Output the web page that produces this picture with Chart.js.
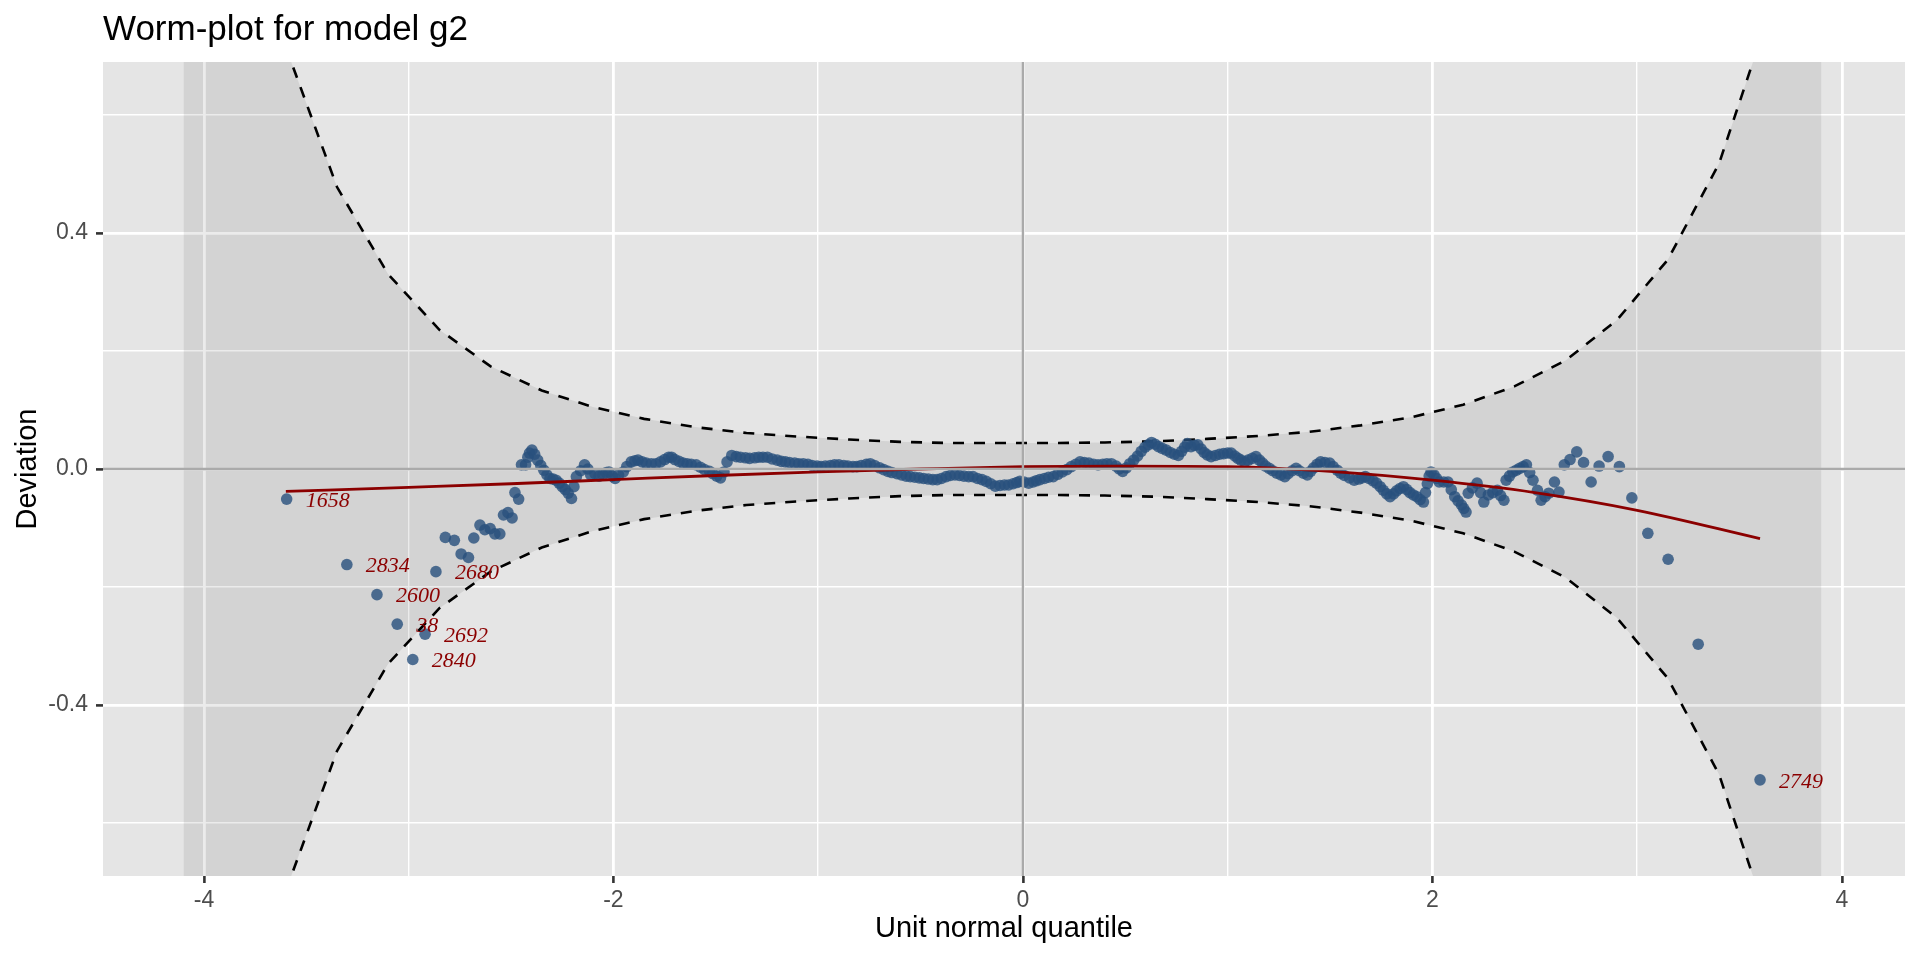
<!DOCTYPE html>
<html>
<head>
<meta charset="utf-8">
<script src="https://cdn.jsdelivr.net/npm/chart.js@4.4.1/dist/chart.umd.min.js"></script>
<style>
html,body{margin:0;padding:0;background:#ffffff;}
#wrap{width:1920px;height:960px;position:relative;}
</style>
</head>
<body>
<div id="wrap"><canvas id="c"></canvas></div>
<script>
// ---------- texts ----------
const chartTitle = 'Worm-plot for model g2';
const xAxisTitle = 'Unit normal quantile';
const yAxisTitle = 'Deviation';
const xMajorTicks = [-4, -2, 0, 2, 4];
const xTickLabels = ['-4', '-2', '0', '2', '4'];
const yMajorTicks = [-0.4, 0, 0.4];
const yTickLabels = ['-0.4', '0.0', '0.4'];

// ---------- worm points (unit normal quantile, deviation) ----------
const wormX = [
 -3.596,-3.302,-3.155,-3.056,-2.980,-2.920,-2.867,-2.821,-2.777,-2.744,
 -2.708,-2.682,-2.652,-2.628,-2.602,-2.579,-2.555,-2.537,-2.515,-2.495,
 -2.481,-2.463,-2.449,-2.429,-2.418,-2.410,-2.398,-2.385,-2.370,-2.355,
 -2.340,-2.325,-2.310,-2.295,-2.280,-2.265,-2.250,-2.235,-2.221,-2.205,
 -2.193,-2.181,-2.160,-2.141,-2.125,-2.111,-2.090,-2.070,-2.052,-2.035,
 -2.022,-2.005,-1.992,-1.975,-1.952,-1.935,-1.913,-1.895,-1.880,-1.860,
 -1.840,-1.815,-1.793,-1.770,-1.750,-1.730,-1.716,-1.700,-1.680,-1.660,
 -1.640,-1.620,-1.596,-1.575,-1.555,-1.531,-1.515,-1.495,-1.477,-1.460,
 -1.445,-1.422,-1.400,-1.380,-1.355,-1.335,-1.310,-1.290,-1.270,-1.248,
 -1.225,-1.200,-1.180,-1.160,-1.140,-1.115,-1.095,-1.073,-1.050,-1.030,
 -1.005,-0.986,-0.965,-0.940,-0.920,-0.899,-0.875,-0.855,-0.830,-0.811,
 -0.790,-0.765,-0.746,-0.725,-0.700,-0.680,-0.659,-0.640,-0.615,-0.593,
 -0.570,-0.550,-0.528,-0.506,-0.485,-0.462,-0.440,-0.419,-0.398,-0.375,
 -0.355,-0.332,-0.310,-0.288,-0.265,-0.244,-0.222,-0.200,-0.179,-0.157,
 -0.135,-0.112,-0.090,-0.070,-0.048,-0.030,-0.015,0.005,0.028,0.050,
 0.065,0.083,0.105,0.125,0.148,0.170,0.192,0.214,0.236,0.258,
 0.279,0.300,0.322,0.345,0.367,0.390,0.410,0.432,0.455,0.470,
 0.487,0.505,0.522,0.541,0.560,0.578,0.596,0.612,0.628,0.645,
 0.662,0.680,0.700,0.720,0.740,0.759,0.775,0.790,0.803,0.821,
 0.838,0.854,0.870,0.885,0.900,0.919,0.940,0.960,0.980,1.000,
 1.017,1.035,1.050,1.065,1.083,1.100,1.120,1.138,1.155,1.170,
 1.185,1.203,1.220,1.240,1.260,1.279,1.295,1.315,1.334,1.350,
 1.370,1.389,1.405,1.420,1.437,1.454,1.475,1.498,1.515,1.535,
 1.552,1.570,1.595,1.618,1.640,1.655,1.672,1.690,1.710,1.727,
 1.745,1.760,1.777,1.793,1.810,1.825,1.842,1.858,1.875,1.890,
 1.907,1.924,1.940,1.956,1.966,1.975,1.984,1.993,2.008,2.020,
 2.033,2.055,2.076,2.092,2.109,2.125,2.142,2.153,2.164,2.175,
 2.195,2.218,2.235,2.251,2.273,2.295,2.317,2.333,2.349,2.360,
 2.376,2.393,2.410,2.426,2.443,2.459,2.475,2.491,2.513,2.531,
 2.550,2.568,2.596,2.618,2.644,2.672,2.705,2.738,2.775,2.814,
 2.858,2.913,2.974,3.052,3.151,3.298,3.600
];
const wormY = [
 -0.051,-0.162,-0.213,-0.263,-0.323,-0.280,-0.174,-0.116,-0.121,-0.144,
 -0.150,-0.117,-0.095,-0.103,-0.101,-0.110,-0.110,-0.078,-0.074,-0.083,
 -0.040,-0.051,0.007,0.007,0.020,0.027,0.032,0.025,0.015,0.006,
 -0.002,-0.010,-0.016,-0.017,-0.019,-0.024,-0.030,-0.035,-0.041,-0.050,
 -0.030,-0.013,-0.003,0.007,0.000,-0.010,-0.008,-0.012,-0.010,-0.006,
 -0.005,-0.012,-0.016,-0.010,-0.005,0.004,0.012,0.014,0.015,0.012,
 0.010,0.009,0.009,0.012,0.016,0.020,0.020,0.016,0.013,0.010,
 0.009,0.008,0.007,0.003,-0.001,-0.004,-0.008,-0.012,-0.015,-0.005,
 0.012,0.023,0.021,0.020,0.019,0.018,0.019,0.020,0.020,0.020,
 0.017,0.015,0.013,0.012,0.011,0.010,0.009,0.009,0.008,0.006,
 0.005,0.004,0.005,0.006,0.007,0.007,0.006,0.005,0.004,0.004,
 0.006,0.008,0.009,0.006,0.002,-0.001,-0.004,-0.006,-0.008,-0.010,
 -0.012,-0.013,-0.014,-0.015,-0.016,-0.017,-0.018,-0.018,-0.016,-0.013,
 -0.011,-0.010,-0.011,-0.012,-0.013,-0.013,-0.016,-0.018,-0.021,-0.025,
 -0.029,-0.028,-0.027,-0.027,-0.025,-0.023,-0.021,-0.022,-0.024,-0.022,
 -0.020,-0.018,-0.016,-0.014,-0.013,-0.009,-0.005,-0.001,0.004,0.008,
 0.012,0.011,0.010,0.008,0.007,0.008,0.009,0.009,0.005,0.000,
 -0.004,0.002,0.009,0.015,0.022,0.030,0.037,0.041,0.045,0.042,
 0.038,0.035,0.032,0.028,0.025,0.023,0.030,0.037,0.043,0.038,
 0.040,0.041,0.034,0.028,0.024,0.021,0.023,0.025,0.026,0.027,
 0.027,0.022,0.018,0.015,0.012,0.015,0.018,0.021,0.015,0.010,
 0.005,0.001,-0.003,-0.007,-0.010,-0.013,-0.008,-0.003,0.001,-0.003,
 -0.007,-0.010,-0.004,0.002,0.008,0.012,0.011,0.010,0.004,-0.002,
 -0.007,-0.011,-0.015,-0.019,-0.017,-0.015,-0.013,-0.016,-0.020,-0.024,
 -0.030,-0.036,-0.042,-0.047,-0.042,-0.037,-0.033,-0.030,-0.035,-0.040,
 -0.044,-0.047,-0.052,-0.056,-0.040,-0.025,-0.012,-0.005,-0.010,-0.016,
 -0.022,-0.022,-0.022,-0.035,-0.047,-0.054,-0.061,-0.067,-0.073,-0.041,
 -0.032,-0.024,-0.040,-0.056,-0.044,-0.040,-0.036,-0.045,-0.053,-0.019,
 -0.012,-0.005,-0.002,0.001,0.004,0.007,-0.006,-0.019,-0.036,-0.053,
 -0.047,-0.041,-0.022,-0.039,0.007,0.016,0.029,0.011,-0.022,0.005,
 0.021,0.004,-0.049,-0.109,-0.153,-0.297,-0.527
];

// ---------- fitted (red) curve ----------
const fitX = [-3.6, -3.0, -2.5, -2.0, -1.5, -1.0, -0.5, 0.0, 0.5, 1.0, 1.5, 2.0, 2.5, 3.0, 3.6];
const fitY = [-0.038, -0.031, -0.025, -0.018, -0.011, -0.005, 0.000, 0.004, 0.005, 0.004, -0.004, -0.019, -0.040, -0.070, -0.118];

// ---------- confidence band (dashed curves) ----------
const bandX = [-4.1,-3.85,-3.6,-3.35,-3.1,-2.85,-2.6,-2.35,-2.1,-1.85,-1.6,-1.35,-1.1,-0.85,-0.6,-0.35,-0.1,
               0.15,0.4,0.65,0.9,1.15,1.4,1.65,1.9,2.15,2.4,2.65,2.9,3.15,3.4,3.65,3.9];
const bandUpper = [1.767,1.106,0.715,0.478,0.330,0.236,0.174,0.133,0.105,0.085,0.071,0.061,0.055,0.050,0.046,0.044,0.044,
                   0.044,0.045,0.047,0.051,0.056,0.063,0.074,0.088,0.109,0.140,0.184,0.252,0.355,0.518,0.778,1.212];
const bandLower = [-1.767,-1.106,-0.715,-0.478,-0.330,-0.236,-0.174,-0.133,-0.105,-0.085,-0.071,-0.061,-0.055,-0.050,-0.046,-0.044,-0.044,
                   -0.044,-0.045,-0.047,-0.051,-0.056,-0.063,-0.074,-0.088,-0.109,-0.140,-0.184,-0.252,-0.355,-0.518,-0.778,-1.212];

// ---------- labelled observations ----------
const labelText = ['1658', '2834', '2600', '38', '2692', '2840', '2680', '2749'];
const labelX = [-3.596, -3.302, -3.155, -3.056, -2.920, -2.980, -2.867, 3.600];
const labelY = [-0.051, -0.162, -0.213, -0.263, -0.280, -0.323, -0.174, -0.527];

// ---------- build ----------
const SANS = '"Liberation Sans", Arial, Helvetica, sans-serif';
const wormPts = wormX.map((x, i) => ({x: x, y: wormY[i]}));
const fitPts = fitX.map((x, i) => ({x: x, y: fitY[i]}));
const upperPts = bandX.map((x, i) => ({x: x, y: bandUpper[i]}));
const lowerPts = bandX.map((x, i) => ({x: x, y: bandLower[i]}));

function xMajorIndex(v) {
  if (Math.abs(v - Math.round(v)) > 1e-6) return -1;
  return xMajorTicks.indexOf(Math.round(v));
}
function yMajorIndex(v) {
  for (let i = 0; i < yMajorTicks.length; i++) if (Math.abs(v - yMajorTicks[i]) < 1e-6) return i;
  return -1;
}

const panelPlugin = {
  id: 'panelPlugin',
  beforeDraw(chart) {
    const {ctx, chartArea: a} = chart;
    ctx.save();
    ctx.fillStyle = '#E5E5E5';
    ctx.fillRect(a.left, a.top, a.right - a.left, a.bottom - a.top);
    ctx.fillStyle = '#000000';
    ctx.font = '35px ' + SANS;
    ctx.textAlign = 'left';
    ctx.textBaseline = 'alphabetic';
    ctx.fillText(chartTitle, a.left, 40);
    ctx.restore();
  },
  afterDatasetsDraw(chart) {
    const {ctx, chartArea: a, scales} = chart;
    const xs = scales.x, ys = scales.y;
    ctx.save();
    ctx.beginPath();
    ctx.rect(a.left, a.top, a.right - a.left, a.bottom - a.top);
    ctx.clip();
    ctx.strokeStyle = '#AAAAAA';
    ctx.lineWidth = 2.4;
    const y0 = ys.getPixelForValue(0), x0 = xs.getPixelForValue(0);
    ctx.beginPath();
    ctx.moveTo(a.left, y0); ctx.lineTo(a.right, y0);
    ctx.moveTo(x0, a.top); ctx.lineTo(x0, a.bottom);
    ctx.stroke();
    ctx.restore();

    ctx.save();
    ctx.font = 'italic 22px "Liberation Serif", "Times New Roman", serif';
    ctx.fillStyle = '#8B0000';
    ctx.textAlign = 'left';
    ctx.textBaseline = 'middle';
    labelText.forEach((t, i) => {
      ctx.fillText(t, xs.getPixelForValue(labelX[i]) + 19, ys.getPixelForValue(labelY[i]) + 2);
    });
    ctx.restore();
  }
};

new Chart(document.getElementById('c'), {
  type: 'scatter',
  data: {
    datasets: [
      {
        type: 'line', data: lowerPts, borderColor: '#000000', borderWidth: 2.6,
        borderDash: [11, 10], pointRadius: 0, fill: false, tension: 0, order: 3
      },
      {
        type: 'line', data: upperPts, borderColor: '#000000', borderWidth: 2.6,
        borderDash: [11, 10], pointRadius: 0, tension: 0, order: 2,
        fill: {target: 0}, backgroundColor: 'rgba(0,0,0,0.08)'
      },
      {
        type: 'scatter', data: wormPts, backgroundColor: 'rgba(40,80,125,0.8)',
        borderWidth: 0, pointRadius: 5.8, pointHoverRadius: 5.8, order: 1
      },
      {
        type: 'line', data: fitPts, borderColor: '#8B0000', borderWidth: 2.8,
        pointRadius: 0, fill: false, cubicInterpolationMode: 'monotone', order: 0
      }
    ]
  },
  options: {
    responsive: true,
    maintainAspectRatio: false,
    animation: false,
    events: [],
    layout: {padding: {left: 0, right: 15, top: 62, bottom: 0}},
    plugins: {
      legend: {display: false},
      tooltip: {enabled: false},
      title: {display: false},
      filler: {drawTime: 'beforeDatasetsDraw'}
    },
    scales: {
      x: {
        type: 'linear', position: 'bottom', min: -4.493, max: 4.308,
        afterFit(s) { s.height = 84; },
        border: {display: false},
        grid: {
          color: '#FFFFFF',
          lineWidth: c => (c.tick && xMajorIndex(c.tick.value) >= 0) ? 2.8 : 1.4,
          drawTicks: true, tickLength: 7,
          tickColor: c => (c.tick && xMajorIndex(c.tick.value) >= 0) ? '#333333' : 'rgba(0,0,0,0)',
          tickWidth: 2.6
        },
        ticks: {
          stepSize: 1, includeBounds: false, autoSkip: false, maxRotation: 0, minRotation: 0,
          padding: 4, color: '#4D4D4D', font: {family: SANS, size: 23},
          callback: v => { const i = xMajorIndex(v); return i >= 0 ? xTickLabels[i] : ''; }
        },
        title: {
          display: true, text: xAxisTitle, color: '#000000',
          font: {family: SANS, size: 29}, padding: {top: 0, bottom: 14}
        }
      },
      y: {
        type: 'linear', position: 'left', min: -0.69, max: 0.69,
        afterFit(s) { s.width = 103; },
        border: {display: false},
        grid: {
          color: '#FFFFFF',
          lineWidth: c => (c.tick && yMajorIndex(c.tick.value) >= 0) ? 2.8 : 1.4,
          drawTicks: true, tickLength: 7,
          tickColor: c => (c.tick && yMajorIndex(c.tick.value) >= 0) ? '#333333' : 'rgba(0,0,0,0)',
          tickWidth: 2.6
        },
        ticks: {
          stepSize: 0.2, includeBounds: false, autoSkip: false,
          padding: 8, color: '#4D4D4D', font: {family: SANS, size: 23},
          callback: v => { const i = yMajorIndex(v); return i >= 0 ? yTickLabels[i] : ''; }
        },
        title: {
          display: true, text: yAxisTitle, color: '#000000',
          font: {family: SANS, size: 29}, padding: {top: 10.6, bottom: 0}
        }
      }
    }
  },
  plugins: [panelPlugin]
});
</script>
</body>
</html>
